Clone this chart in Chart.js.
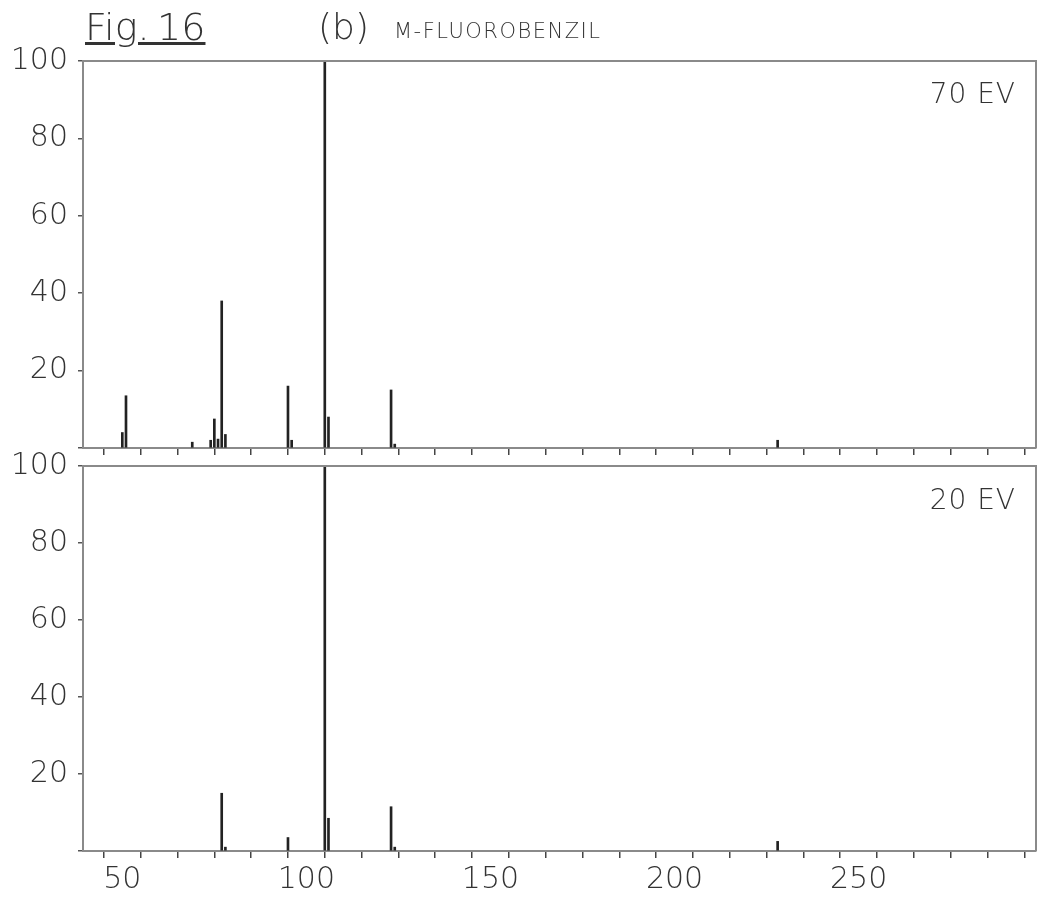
<!DOCTYPE html>
<html>
<head>
<meta charset="utf-8">
<script src="https://cdn.jsdelivr.net/npm/chart.js@4.4.1/dist/chart.umd.min.js"></script>
<style>
    body { margin: 0; background: #fff; }
    #wrap { position: relative; width: 1038px; height: 898px; font-family: "DejaVu Sans", sans-serif; font-weight: 200; color: #333; }
    #wrap canvas { position: absolute; left: 0; top: 0; }
    .txt { position: absolute; white-space: nowrap; line-height: 1; }
</style>
</head>
<body>
<div id="wrap">
    <canvas id="chart70" width="1038" height="898"></canvas>
    <canvas id="chart20" width="1038" height="898"></canvas>
    <div class="txt" style="left:85px; top:8px; font-size:38px; text-decoration:underline;">Fig.&thinsp;16</div>
    <div class="txt" style="left:318px; top:9px; font-size:36px;">(b)</div>
    <div class="txt" style="left:394px; top:21px; font-size:21px; letter-spacing:1.5px;">M-FLUOROBENZIL</div>
    <div class="txt" style="right:22px; top:80px; font-size:28px; letter-spacing:1px;">70 EV</div>
    <div class="txt" style="right:22px; top:486px; font-size:28px; letter-spacing:1px;">20 EV</div>
</div>
<script>
// m/z and relative intensity (%), 70 eV
const mz70  = [50, 51, 69, 74, 75, 76, 77, 78, 95, 96, 105, 106, 123, 124, 228];
const int70 = [4, 13.5, 1.5, 2, 7.5, 2.3, 38, 3.5, 16, 2, 100, 8, 15, 1, 2];

// m/z and relative intensity (%), 20 eV
const mz20  = [77, 78, 95, 105, 106, 123, 124, 228];
const int20 = [15, 1, 3.5, 100, 8.5, 11.5, 1, 2.5];

const xTicks = [50, 60, 70, 80, 90, 100, 110, 120, 130, 140, 150, 160, 170, 180, 190, 200, 210, 220, 230, 240, 250, 260, 270, 280, 290];
const xLabels = [50, 100, 150, 200, 250];
const yLabels = [20, 40, 60, 80, 100];

const ink = '#222';
const axisGrey = '#8a8a8a';
const tickFont = { family: 'DejaVu Sans', size: 30, weight: '200' };

// top and right edges of each panel
const frame = {
    id: 'frame',
    afterDraw(chart) {
        const a = chart.chartArea, ctx = chart.ctx;
        ctx.save();
        ctx.strokeStyle = axisGrey;
        ctx.lineWidth = 2;
        ctx.beginPath();
        ctx.moveTo(a.left, a.top);
        ctx.lineTo(a.right, a.top);
        ctx.lineTo(a.right, a.bottom);
        ctx.stroke();
        ctx.restore();
    }
};

function makeSpectrum(id, mz, vals, padTop, padBottom, xHeight, showX) {
    return new Chart(document.getElementById(id), {
        type: 'bar',
        data: {
            datasets: [{
                data: mz.map((m, i) => ({ x: m, y: vals[i] })),
                backgroundColor: ink,
                barThickness: 2
            }]
        },
        options: {
            responsive: false,
            animation: false,
            layout: { padding: { top: padTop, bottom: padBottom, left: 0, right: 2 } },
            plugins: { legend: { display: false }, tooltip: { enabled: false } },
            scales: {
                x: {
                    type: 'linear',
                    min: 44.5,
                    max: 293,
                    afterBuildTicks: s => { s.ticks = xTicks.map(v => ({ value: v })); },
                    afterFit: s => { s.height = xHeight; },
                    border: { color: axisGrey, width: 2 },
                    grid: { drawOnChartArea: false, tickLength: 7, color: '#444', lineWidth: 1.5 },
                    ticks: {
                        display: showX,
                        autoSkip: false,
                        maxRotation: 0,
                        padding: 4,
                        color: '#333',
                        font: tickFont,
                        callback: v => xLabels.includes(v) ? String(v) : ''
                    }
                },
                y: {
                    min: 0,
                    max: 100,
                    afterFit: s => { s.width = 83; },
                    border: { color: axisGrey, width: 2 },
                    grid: { drawOnChartArea: false, tickLength: 5, color: '#555', lineWidth: 1.5 },
                    ticks: {
                        stepSize: 10,
                        padding: 10,
                        color: '#333',
                        font: tickFont,
                        callback: v => yLabels.includes(v) ? String(v) : ''
                    }
                }
            }
        },
        plugins: [frame]
    });
}

makeSpectrum('chart70', mz70, int70, 61, 898 - 460, 12, false);
makeSpectrum('chart20', mz20, int20, 466, 0, 47, true);
</script>
</body>
</html>
